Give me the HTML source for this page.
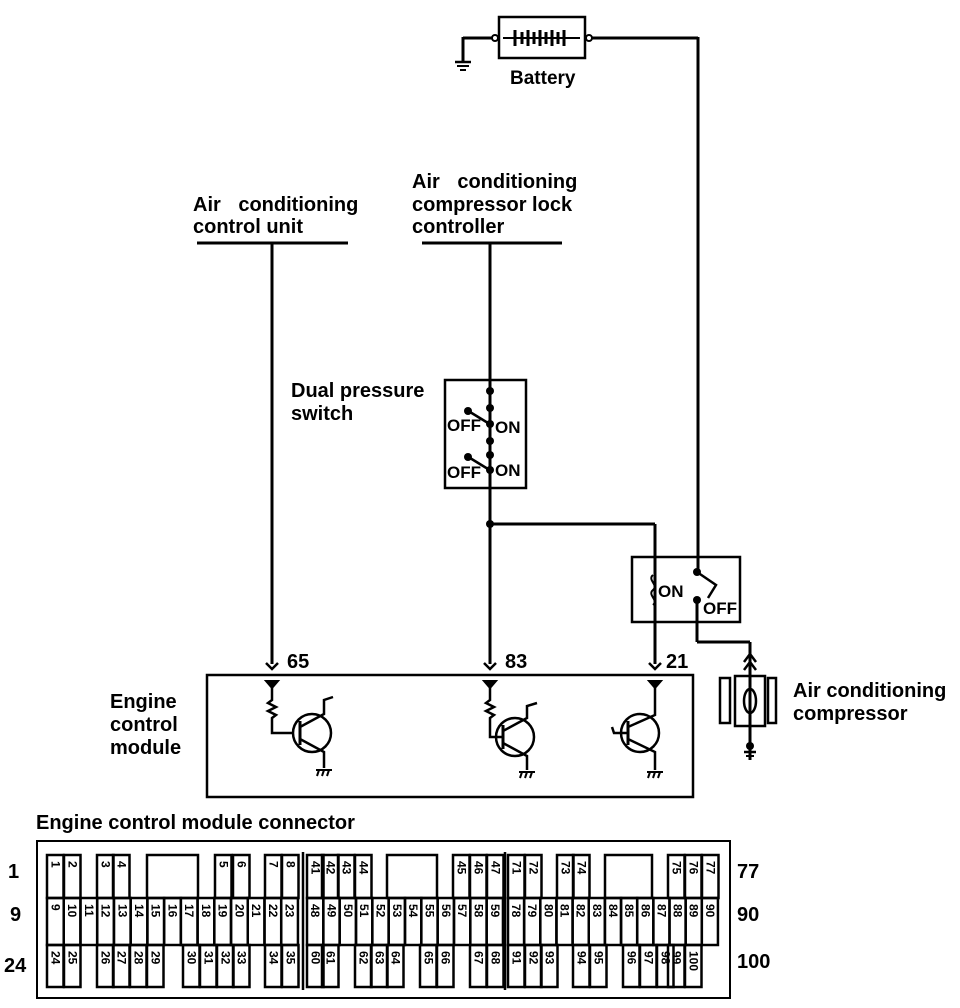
<!DOCTYPE html>
<html><head><meta charset="utf-8"><style>
html,body{margin:0;padding:0;background:#fff}
svg{display:block}
text{font-family:"Liberation Sans",Arial,sans-serif;fill:#000}
</style></head><body>
<svg width="960" height="1008" viewBox="0 0 960 1008" xmlns="http://www.w3.org/2000/svg">
<g stroke="#000" stroke-width="3" fill="none">
<rect x="499" y="17" width="86" height="41" stroke-width="2.5"/>
<line x1="463" y1="38" x2="499" y2="38"/>
<line x1="463" y1="37" x2="463" y2="62"/>
<line x1="455" y1="62" x2="471" y2="62" stroke-width="2.5"/>
<line x1="457" y1="66" x2="469" y2="66" stroke-width="2"/>
<line x1="460" y1="70" x2="466" y2="70" stroke-width="2"/>
<line x1="585" y1="38" x2="698" y2="38"/>
<line x1="698" y1="37" x2="698" y2="572"/>
<line x1="503" y1="38" x2="580" y2="38" stroke-width="2"/>
<g stroke-width="3">
<line x1="515" y1="30" x2="515" y2="46"/><line x1="522" y1="32" x2="522" y2="44"/>
<line x1="528" y1="30" x2="528" y2="46"/><line x1="534" y1="32" x2="534" y2="44"/>
<line x1="540" y1="30" x2="540" y2="46"/><line x1="546" y1="32" x2="546" y2="44"/>
<line x1="552" y1="30" x2="552" y2="46"/><line x1="558" y1="32" x2="558" y2="44"/>
<line x1="564" y1="30" x2="564" y2="46"/>
</g>
<circle cx="495" cy="38" r="3" fill="#fff" stroke-width="2"/>
<circle cx="589" cy="38" r="3" fill="#fff" stroke-width="2"/>
<line x1="197" y1="243" x2="348" y2="243"/>
<line x1="422" y1="243" x2="562" y2="243"/>
<line x1="272" y1="243" x2="272" y2="664"/>
<line x1="490" y1="243" x2="490" y2="664"/>
<rect x="445" y="380" width="81" height="108" stroke-width="2.5"/>
<line x1="490" y1="524" x2="655" y2="524"/>
<line x1="655" y1="524" x2="655" y2="664"/>
<line x1="470" y1="412" x2="488" y2="423" stroke-width="2.5"/>
<line x1="470" y1="458" x2="488" y2="469" stroke-width="2.5"/>
<rect x="632" y="557" width="108" height="65" stroke-width="2.5"/>
<path d="M697 572 L716 585 L708 598" stroke-width="2.5"/>
<line x1="697" y1="600" x2="697" y2="642"/>
<line x1="697" y1="642" x2="750" y2="642"/>
<line x1="750" y1="642" x2="750" y2="760"/>
<rect x="720" y="678" width="10" height="45" stroke-width="2.5"/>
<rect x="735" y="676" width="30" height="50" stroke-width="2.5"/>
<rect x="768" y="678" width="8" height="45" stroke-width="2.5"/>
<ellipse cx="750" cy="701" rx="6" ry="12" stroke-width="2.5"/>
<path d="M744 662 L750 654 L756 662 M744 670 L750 662 L756 670" stroke-width="2.5"/>
<rect x="207" y="675" width="486" height="122" stroke-width="2.5"/>
<path d="M266 663 L272 669 L278 663 M484 663 L490 669 L496 663 M649 663 L655 669 L661 663" stroke-width="2.5"/>
<path d="M266 681 L272 688 L278 681 Z M484 681 L490 688 L496 681 Z M649 681 L655 688 L661 681 Z" fill="#000" stroke-width="2"/>
<path d="M272 688 L272 700 L268 703 L276 707 L268 711 L276 715 L272 718 L272 733 L294 733" stroke-width="2.5"/>
<circle cx="312" cy="733" r="19" stroke-width="2.5"/>
<line x1="300" y1="721" x2="300" y2="745" stroke-width="3"/>
<path d="M300 727 L324 714 L324 700 L333 697 M300 739 L324 752 L324 768" stroke-width="2.5"/>
<path d="M490 688 L490 700 L486 703 L494 707 L486 711 L494 715 L490 718 L490 737 L503 737" stroke-width="2.5"/>
<circle cx="515" cy="737" r="19" stroke-width="2.5"/>
<line x1="503" y1="725" x2="503" y2="749" stroke-width="3"/>
<path d="M503 731 L527 718 L527 706 L537 703 M503 743 L527 756 L527 770" stroke-width="2.5"/>
<circle cx="640" cy="733" r="19" stroke-width="2.5"/>
<line x1="628" y1="721" x2="628" y2="745" stroke-width="3"/>
<path d="M655 688 L655 715 L628 727 M628 739 L655 752 L655 770 M628 733 L614 733 L612 727" stroke-width="2.5"/>
<g stroke-width="2">
<path d="M316 770 L332 770 M319 770 L317 776 M324 770 L322 776 M329 770 L327 776"/>
<path d="M519 772 L535 772 M522 772 L520 778 M527 772 L525 778 M532 772 L530 778"/>
<path d="M647 772 L663 772 M650 772 L648 778 M655 772 L653 778 M660 772 L658 778"/>
</g>
<line x1="744" y1="752" x2="756" y2="752" stroke-width="2.5"/>
<line x1="746" y1="756" x2="754" y2="756" stroke-width="2"/>
</g>
<g fill="#000">
<circle cx="490" cy="391" r="4"/><circle cx="490" cy="408" r="4"/><circle cx="468" cy="411" r="4"/>
<circle cx="490" cy="424" r="4"/><circle cx="490" cy="441" r="4"/><circle cx="490" cy="455" r="4"/>
<circle cx="468" cy="457" r="4"/><circle cx="490" cy="470" r="4"/><circle cx="490" cy="524" r="4"/>
<circle cx="697" cy="572" r="4"/><circle cx="697" cy="600" r="4"/><circle cx="750" cy="746" r="4"/>
</g>
<g stroke="#000" stroke-width="2" fill="none"><path d="M653 575 C647 580,659 585,653 590 C647 595,659 600,653 605"/></g>
<g font-size="20" font-weight="bold">
<text x="193" y="211" word-spacing="12">Air conditioning</text>
<text x="193" y="233">control unit</text>
<text x="412" y="188" word-spacing="12">Air conditioning</text>
<text x="412" y="211">compressor lock</text>
<text x="412" y="233">controller</text>
<text x="291" y="397">Dual pressure</text>
<text x="291" y="420">switch</text>
<text x="110" y="708">Engine</text>
<text x="110" y="731">control</text>
<text x="110" y="754">module</text>
<text x="793" y="697">Air conditioning</text>
<text x="793" y="720">compressor</text>
<text x="36" y="829">Engine control module connector</text>
<text x="510" y="84" font-size="19">Battery</text>
</g>
<g font-size="17" font-weight="bold">
<text x="447" y="431">OFF</text><text x="495" y="433">ON</text>
<text x="447" y="478">OFF</text><text x="495" y="476">ON</text>
<text x="658" y="597">ON</text><text x="703" y="614">OFF</text>
</g>
<g font-size="20" font-weight="bold">
<text x="287" y="668">65</text><text x="505" y="668">83</text><text x="666" y="668">21</text>
<text x="8" y="878">1</text><text x="10" y="921">9</text><text x="4" y="972">24</text>
<text x="737" y="878">77</text><text x="737" y="921">90</text><text x="737" y="968">100</text>
</g>
<rect x="37" y="841" width="693" height="157" fill="none" stroke="#000" stroke-width="2"/>
<g id="cells" fill="none" stroke="#000" stroke-width="2.5" font-size="12">
</g>
<script>
(function(){
var g=document.getElementById('cells'),ns='http://www.w3.org/2000/svg';
function cell(x,w,y,h,label){
 var r=document.createElementNS(ns,'rect');r.setAttribute('x',x);r.setAttribute('y',y);r.setAttribute('width',w);r.setAttribute('height',h);g.appendChild(r);
 if(label!==null){var t=document.createElementNS(ns,'text');var cx=x+w/2-4,cy=y+6;
 t.setAttribute('transform','translate('+cx+','+cy+') rotate(90)');t.setAttribute('stroke','none');t.setAttribute('font-weight','bold');t.textContent=label;g.appendChild(t);}
}
var T=855,TH=43,M=898,MH=47,B=945,BH=42;
var top=[[47,1],[64,2],[97,3],[113,4],[215,5],[233,6],[265,7],[282,8],[307,41],[322,42],[338,43],[355,44],[453,45],[470,46],[487,47],[508,71],[525,72],[557,73],[573,74],[668,75],[685,76],[702,77]];
top.forEach(function(c){cell(c[0],16.5,T,TH,String(c[1]));});
cell(147,51,T,TH,null);cell(387,50,T,TH,null);cell(605,47,T,TH,null);
var i;for(i=0;i<15;i++)cell(47+i*16.73,16.73,M,MH,String(9+i));
for(i=0;i<12;i++)cell(307+i*16.33,16.33,M,MH,String(48+i));
for(i=0;i<13;i++)cell(508+i*16.15,16.15,M,MH,String(78+i));
var bot=[[47,24],[64,25],[97,26],[113,27],[130,28],[147,29],[183,30],[200,31],[217,32],[233,33],[265,34],[282,35],[307,60],[322,61],[355,62],[371,63],[387,64],[420,65],[437,66],[470,67],[487,68],[508,91],[525,92],[541,93],[573,94],[590,95],[623,96],[640,97],[657,98],[668,99],[685,100]];
bot.forEach(function(c){cell(c[0],16.5,B,BH,String(c[1]));});
[303,505].forEach(function(x){var l=document.createElementNS(ns,'line');l.setAttribute('x1',x);l.setAttribute('x2',x);l.setAttribute('y1',852);l.setAttribute('y2',990);g.appendChild(l);});
})();
</script>
</svg>
</body></html>
